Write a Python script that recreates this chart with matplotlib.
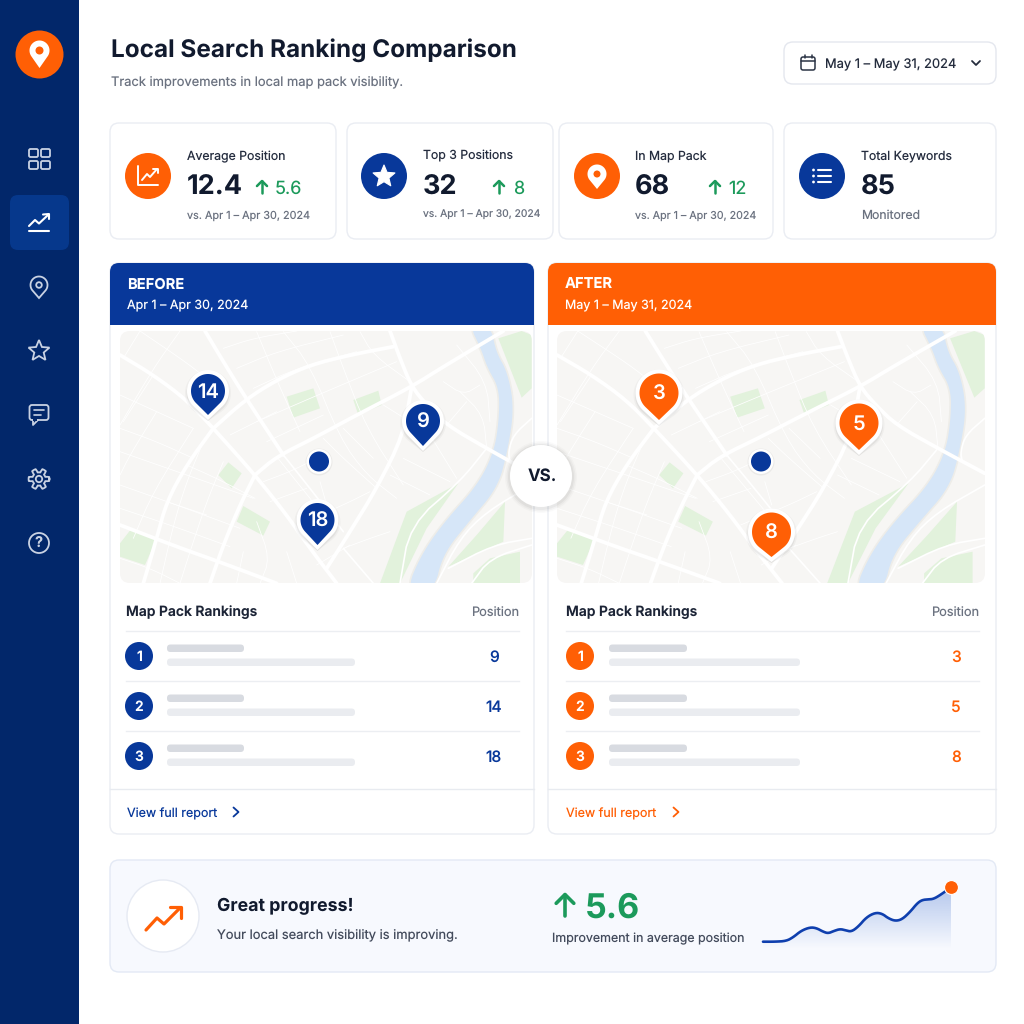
import numpy as np
import matplotlib
matplotlib.use('Agg')
import matplotlib.pyplot as plt
from matplotlib.colors import to_rgb
from matplotlib.patches import FancyBboxPatch, Circle, Polygon, Rectangle

plt.rcParams['font.family'] = ['Inter', 'DejaVu Sans']
plt.rcParams['text.hinting'] = 'no_hinting'
plt.rcParams['text.hinting_factor'] = 1

# data
title = 'Local Search Ranking Comparison'
subtitle = 'Track improvements in local map pack visibility.'
date_range = 'May 1 – May 31, 2024'
prev_range = 'Apr 1 – Apr 30, 2024'
kpi_labels = ['Average Position', 'Top 3 Positions', 'In Map Pack', 'Total Keywords']
kpi_values = ['12.4', '32', '68', '85']
kpi_deltas = ['5.6', '8', '12', None]
ranks = [1, 2, 3]
before_positions = [9, 14, 18]
after_positions = [3, 5, 8]
before_pins = [14, 9, 18]
after_pins = [3, 5, 8]
spark_days = [1, 2.9, 4.7, 5.8, 7.1, 8.5, 9.5, 10.6, 11.4, 12.3, 13.3, 14.2, 15.1, 16.2,
              17.5, 18.9, 20, 21, 22.1, 23.2, 24.5, 25.6, 26.4, 27.4, 28.2, 29.3, 31]
spark_vals = [0, 0, .07, .45, 1.13, 1.48, 1.41, 1.03, .86, 1.1, 1.31, 1.17, 1.03, 1.55,
              2.51, 2.99, 2.89, 2.41, 2.13, 2.3, 3.09, 3.95, 4.3, 4.36, 4.4, 4.81, 5.6]

# colours
NAVY = '#02276a'
BLUE = '#08389a'
ORANGE = '#ff5f05'
GREEN = '#1c9a5b'
INK = '#111a2e'
GREY = '#6b7280'
BORDER = '#eaedf3'

# map layout, in crop coordinates of the left map
parks = [
    [(530, 215), (610, 190), (630, 250), (550, 278)],
    [(730, 225), (805, 197), (815, 240), (745, 270)],
    [(325, 450), (355, 412), (395, 445), (365, 490)],
    [(380, 590), (400, 543), (480, 590), (460, 632)],
    [(30, 655), (65, 610), (140, 640), (105, 720), (30, 695)],
    [(810, 775), (860, 640), (890, 560), (1045, 475), (950, 610), (870, 775)],
    [(1165, 40), (1235, 18), (1265, 30), (1265, 190), (1235, 218)],
    [(1015, 725), (1100, 630), (1185, 530), (1180, 650)],
    [(1090, 775), (1090, 745), (1140, 700), (1230, 680), (1230, 775)],
]
river = [(1075, 0), (1110, 70), (1130, 130), (1165, 190), (1165, 280), (1150, 380), (1100, 480),
         (1000, 590), (930, 690), (885, 800), (975, 800), (1000, 690), (1080, 590), (1165, 490),
         (1195, 380), (1215, 250), (1195, 140), (1160, 80), (1145, 0)]
major_roads = [
    [(30, 90), (130, 150), (230, 225), (310, 310), (435, 450), (530, 570), (600, 670), (680, 775)],
    [(285, 18), (340, 110), (405, 215), (520, 390)],
    [(310, 310), (405, 225), (500, 165), (600, 120), (720, 90), (850, 65)],
    [(310, 310), (230, 420), (170, 530), (140, 640), (100, 775)],
    [(435, 450), (500, 395), (620, 335), (740, 270), (905, 185), (1000, 125), (1180, 18)],
    [(840, 18), (870, 100), (905, 185), (950, 240), (1010, 300), (1130, 370), (1265, 445)],
    [(435, 450), (390, 540), (340, 660), (300, 775)],
    [(905, 185), (880, 330), (800, 490), (720, 620), (650, 730)],
    [(30, 600), (200, 665), (340, 715), (500, 775)],
]
mid_roads = [
    [(1130, 370), (1050, 470), (900, 600), (870, 775)],
    [(1265, 280), (1210, 330), (1195, 380), (1200, 410)],
    [(1265, 480), (1130, 560), (1050, 640), (980, 775)],
    [(1265, 640), (1150, 660), (1015, 730)],
    [(1265, 660), (1140, 700), (1085, 775)],
    [(700, 670), (790, 775)],
    [(520, 390), (600, 490), (700, 620)],
]
minor_roads = [
    [(30, 210), (140, 260), (250, 310)], [(30, 310), (140, 350), (250, 400)],
    [(30, 380), (230, 450), (430, 520)], [(30, 480), (200, 540), (390, 610)],
    [(30, 550), (180, 600), (360, 665)], [(30, 700), (120, 730), (210, 775)],
    [(90, 18), (40, 100)], [(210, 18), (130, 130), (30, 300)], [(130, 150), (40, 290)],
    [(250, 310), (130, 500), (70, 640)], [(140, 260), (60, 390), (30, 450)],
    [(230, 420), (320, 460), (435, 520)], [(170, 530), (290, 570)],
    [(90, 18), (240, 120), (300, 170)], [(280, 350), (230, 470), (190, 600), (150, 775)],
    [(340, 410), (290, 530), (240, 680), (210, 775)],
    [(340, 70), (430, 40), (560, 18)], [(380, 130), (500, 80), (700, 30)],
    [(430, 190), (560, 130), (740, 80)], [(440, 20), (500, 165), (570, 320)],
    [(520, 20), (600, 120), (690, 340), (770, 450), (860, 520)],
    [(660, 20), (700, 130), (770, 310), (880, 480)], [(750, 20), (790, 90), (900, 170)],
    [(440, 290), (600, 220), (860, 110)], [(470, 350), (640, 270)], [(360, 330), (500, 260)],
    [(640, 340), (700, 400), (800, 490)], [(700, 310), (790, 400)], [(820, 240), (900, 290)],
    [(880, 400), (1020, 470)], [(840, 450), (960, 510)], [(960, 330), (1040, 460)],
    [(1050, 200), (1120, 270), (1130, 370)], [(1000, 170), (1060, 210), (1110, 180)],
    [(1040, 60), (1130, 170), (1140, 290)], [(1010, 300), (1070, 230)],
    [(500, 395), (560, 470), (640, 570)], [(460, 470), (540, 440), (620, 400)],
    [(480, 530), (590, 490)], [(560, 600), (700, 540), (780, 500)], [(630, 470), (650, 540)],
    [(700, 670), (780, 640), (840, 620)], [(440, 590), (480, 700), (450, 775)],
    [(400, 680), (380, 775)], [(530, 680), (560, 775)], [(620, 720), (720, 660)],
]

fig = plt.figure(figsize=(10.24, 10.24), dpi=100, facecolor='white')
ax = fig.add_axes([0, 0, 1, 1])
ax.set_xlim(0, 1024)
ax.set_ylim(1024, 0)
ax.axis('off')


def box(x0, y0, x1, y1, r, fc='white', ec=BORDER, lw=1.0, z=2):
    p = FancyBboxPatch((x0, y0), x1 - x0, y1 - y0, boxstyle=f'round,pad=0,rounding_size={r}',
                       fc=fc, ec=ec, lw=lw, zorder=z)
    ax.add_patch(p)
    return p


def txt(x, y, s, size, color=INK, weight='normal', ha='left', z=12):
    return ax.text(x, y + 1, s, fontsize=size, color=color, fontweight=weight, ha=ha, va='center', zorder=z)


def line(pts, color, lw, z=11):
    xs, ys = zip(*pts)
    ax.plot(xs, ys, color=color, lw=lw, solid_capstyle='round', solid_joinstyle='round', zorder=z)


def smooth(pts, n=3, closed=False):
    # corner cutting, enough to round off the map outlines
    pts = np.array(pts, float)
    for _ in range(n):
        if closed:
            nxt = np.roll(pts, -1, axis=0)
            pts = np.column_stack([.75 * pts + .25 * nxt, .25 * pts + .75 * nxt]).reshape(-1, 2)
        else:
            q = .75 * pts[:-1] + .25 * pts[1:]
            r = .25 * pts[:-1] + .75 * pts[1:]
            mid = np.column_stack([q, r]).reshape(-1, 2)
            pts = np.vstack([pts[0], mid, pts[-1]])
    return pts


def teardrop(cx, cy, r, tip):
    d = tip - cy
    a = np.arccos(r / d)
    t = np.linspace(np.pi / 2 + a, 2.5 * np.pi - a, 60)
    xs = cx + r * np.cos(t)
    ys = cy + r * np.sin(t)
    return np.vstack([np.column_stack([xs, ys]), [cx, tip]])


def star(cx, cy, r, inner=.45):
    t = -np.pi / 2 + np.arange(10) * np.pi / 5
    rad = np.where(np.arange(10) % 2 == 0, r, r * inner)
    return np.column_stack([cx + rad * np.cos(t), cy + rad * np.sin(t)])


def up_arrow(x, y, h, color, lw=1.8):
    line([(x, y + h / 2), (x, y - h / 2)], color, lw)
    line([(x - h * .42, y - h * .08), (x, y - h / 2), (x + h * .42, y - h * .08)], color, lw)


def chevron_right(x, y, color):
    line([(x - 2.5, y - 4.5), (x + 2.5, y), (x - 2.5, y + 4.5)], color, 1.3)


# sidebar
ax.add_patch(Rectangle((0, 0), 79, 1024, fc=NAVY, ec='none', zorder=1))
ax.add_patch(Circle((39.5, 54.5), 24, fc=ORANGE, ec='none', zorder=3))
ax.add_patch(Polygon(teardrop(39.5, 50.5, 10, 68), fc='white', ec='none', zorder=4))
ax.add_patch(Circle((39.5, 50.5), 4, fc=ORANGE, ec='none', zorder=5))
box(10, 195, 69, 250, 8, fc='#06388c', ec='none', lw=0, z=2)

ICON = '#c9d2e3'
for x, y in [(29, 149), (41, 149), (29, 161), (41, 161)]:
    box(x, y, x + 9, y + 8, 1.5, fc='none', ec=ICON, lw=1.3, z=4)
line([(29, 226), (35, 220), (39, 223.5), (48, 215)], 'white', 1.5, z=4)
line([(43, 214.5), (49, 214), (49, 219)], 'white', 1.5, z=4)
line([(29, 231), (49, 231)], 'white', 1.5, z=4)
ax.add_patch(Polygon(teardrop(39, 285, 8.5, 298), fc='none', ec=ICON, lw=1.3, zorder=4))
ax.add_patch(Circle((39, 285), 2.8, fc='none', ec=ICON, lw=1.3, zorder=4))
ax.add_patch(Polygon(star(39, 351, 11), fc='none', ec=ICON, lw=1.3, zorder=4))
box(29.5, 405, 48.5, 420, 2.5, fc='none', ec=ICON, lw=1.3, z=4)
line([(33, 420), (33, 425), (38, 420)], ICON, 1.3, z=4)
ax.add_patch(Rectangle((33, 419), 4, 2, fc=NAVY, ec='none', zorder=4))
line([(34, 410), (44, 410)], ICON, 1.2, z=5)
line([(34, 415), (41, 415)], ICON, 1.2, z=5)
t = np.linspace(0, 2 * np.pi, 97)
gear_r = 8.5 + 1.9 * np.clip(3 * np.cos(6 * t), -1, 1)
ax.plot(39 + gear_r * np.cos(t), 479 + gear_r * np.sin(t), color=ICON, lw=1.3, zorder=4)
ax.add_patch(Circle((39, 479), 3.2, fc='none', ec=ICON, lw=1.3, zorder=4))
ax.add_patch(Circle((39, 543), 10, fc='none', ec=ICON, lw=1.3, zorder=4))
txt(39, 542, '?', 10.5, color=ICON, weight='bold', ha='center', z=5)

# header
txt(111, 49.5, title, 17.5, weight='bold')
txt(111, 82, subtitle, 9.3, color=GREY)
box(784, 42, 996, 84, 9, ec='#e4e7ee')
box(801, 57, 815, 70, 2, fc='none', ec='#2b3445', lw=1.1, z=5)
line([(801, 61), (815, 61)], '#2b3445', 1.1)
line([(804.5, 55), (804.5, 58)], '#2b3445', 1.1)
line([(811.5, 55), (811.5, 58)], '#2b3445', 1.1)
txt(825, 63.5, date_range, 9.3, color='#242c3d')
line([(972, 61), (976, 65), (980, 61)], '#242c3d', 1.3)

# kpi cards
cards = [(110, 336), (347, 553), (559, 773), (784, 996)]
icon_x = [148, 384, 597, 822]
text_x = [187, 423, 635, 861]
arrow_x = [262, 499, 715, None]
delta_x = [275, 513, 728, None]
sub_size = [7.8, 7.45, 7.7]
for i, (x0, x1) in enumerate(cards):
    box(x0, 123, x1, 239, 9)
    ax.add_patch(Circle((icon_x[i], 176), 23, fc=ORANGE if i in (0, 2) else BLUE, ec='none', zorder=4))
    txt(text_x[i], 155.5, kpi_labels[i], 8.85, color='#252d3f')
    txt(text_x[i], 187, kpi_values[i], 19.5, weight='bold')
    if kpi_deltas[i] is not None:
        up_arrow(arrow_x[i], 187, 12, GREEN)
        txt(delta_x[i], 188, kpi_deltas[i], 13, color=GREEN)
        txt(text_x[i], 214.5, 'vs. ' + prev_range, sub_size[i], color=GREY)
    else:
        txt(text_x[i], 214.5, 'Monitored', 8.8, color=GREY)

# kpi icons
line([(138, 166), (138, 185), (158, 185)], 'white', 1.4, z=6)
line([(142, 180), (147, 174), (150, 177), (157, 169)], 'white', 1.4, z=6)
line([(153, 168.5), (158, 168.5), (158, 173)], 'white', 1.4, z=6)
ax.add_patch(Polygon(star(384, 176.5, 11.5), fc='white', ec='white', lw=.8, joinstyle='round', zorder=6))
ax.add_patch(Polygon(teardrop(597, 174, 9.5, 189), fc='white', ec='none', zorder=6))
ax.add_patch(Circle((597, 174), 3.5, fc=ORANGE, ec='none', zorder=7))
for dy in (-6, 0, 6):
    ax.add_patch(Circle((813.5, 176 + dy), 1.4, fc='white', ec='none', zorder=6))
    line([(818, 176 + dy), (831, 176 + dy)], 'white', 1.5, z=6)


def map_panel(x0, scale, pin_vals, pin_xy, pin_r, color, dot_x):
    # draws one of the two street maps, clipped to its rounded frame
    clip = FancyBboxPatch((x0, 331), (412 if scale == 1 else 428), 252, boxstyle='round,pad=0,rounding_size=10',
                          fc='#f7f6f4', ec='none', zorder=3)
    ax.add_patch(clip)

    def conv(pts):
        p = np.array(pts, float)
        return np.column_stack([x0 + (p[:, 0] - 30) / 3 * scale, 325 + p[:, 1] / 3])

    for pk in parks:
        a = Polygon(conv(pk), fc='#e2f2dc', ec='none', zorder=3.1)
        ax.add_patch(a)
        a.set_clip_path(clip)
    a = Polygon(conv(smooth(river, 3, closed=True)), fc='#d6e6f8', ec='#eeede9', lw=1.2, zorder=3.2)
    ax.add_patch(a)
    a.set_clip_path(clip)
    for roads, lw, z in ((minor_roads, .55, 3.3), (mid_roads, 1.2, 3.4), (major_roads, 2.7, 3.5)):
        for rd in roads:
            p = conv(smooth(rd, 2))
            l, = ax.plot(p[:, 0], p[:, 1], color='white', lw=lw, zorder=z, solid_capstyle='round')
            l.set_clip_path(clip)

    for val, (cx, cy, tip) in zip(pin_vals, pin_xy):
        for grow, alpha in ((6, .03), (4.5, .05)):
            ax.add_patch(Polygon(teardrop(cx, cy + 2, pin_r + grow, tip + 6), fc='black', alpha=alpha, ec='none', zorder=5))
        ax.add_patch(Polygon(teardrop(cx, cy, pin_r + 4, tip + 5), fc='white', ec='none', zorder=5.2))
        ax.add_patch(Polygon(teardrop(cx, cy, pin_r, tip), fc=color, ec='none', zorder=5.4))
        txt(cx, cy + .5, str(val), 14.5, color='white', weight='semibold', ha='center', z=6)

    ax.add_patch(Circle((dot_x, 462), 13.5, fc='black', alpha=.05, ec='none', zorder=5))
    ax.add_patch(Circle((dot_x, 461.5), 12.5, fc='white', ec='none', zorder=5.2))
    ax.add_patch(Circle((dot_x, 461.5), 10, fc=BLUE, ec='none', zorder=5.4))


# before / after panels
panels = [
    dict(x0=110, x1=534, label='BEFORE', dates=prev_range, color=BLUE, tx=127, map_x=120, scale=1,
         pins=before_pins, pin_xy=[(208, 391, 415), (423, 421, 446), (317.5, 520, 545)], pin_r=17, dot=319,
         rows=before_positions, num_x=139, bar_x=167, bar1=244, bar2=355, val_x=494,
         pos_x=519, view_x=127, chev=236, sep=(126, 519), rows_title=126),
    dict(x0=548, x1=996, label='AFTER', dates=date_range, color=ORANGE, tx=565, map_x=557, scale=1.039,
         pins=after_pins, pin_xy=[(659, 393, 420), (859, 423, 450), (771.5, 532, 557)], pin_r=19.5, dot=761,
         rows=after_positions, num_x=580, bar_x=609, bar1=687, bar2=800, val_x=956,
         pos_x=979, view_x=566, chev=676, sep=(566, 979), rows_title=566),
]
for p in panels:
    box(p['x0'], 263, p['x1'], 834, 9, z=2)
    box(p['x0'], 263, p['x1'], 320, 9, fc=p['color'], ec='none', lw=0, z=2.1)
    ax.add_patch(Rectangle((p['x0'], 300), p['x1'] - p['x0'], 24.5, fc=p['color'], ec='none', zorder=2.1))
    txt(p['tx'], 283.5, p['label'], 10.6, color='white', weight='bold')
    txt(p['tx'], 304.5, p['dates'], 9.0, color='white')
    map_panel(p['map_x'], p['scale'], p['pins'], p['pin_xy'], p['pin_r'], p['color'], p['dot'])

    txt(p['rows_title'], 611.5, 'Map Pack Rankings', 10, color='#1c2436', weight='semibold')
    txt(p['pos_x'], 612, 'Position', 9.2, color=GREY, ha='right')
    ax.plot(p['sep'], [631, 631], color='#eceef2', lw=1, zorder=3)
    for j, (rank, pos) in enumerate(zip(ranks, p['rows'])):
        yc = [656, 706, 756][j]
        ax.add_patch(Circle((p['num_x'], yc), 14, fc=p['color'], ec='none', zorder=4))
        txt(p['num_x'], yc, str(rank), 10, color='white', weight='semibold', ha='center')
        box(p['bar_x'], yc - 11.5, p['bar1'], yc - 4, 3.5, fc='#d8dbe1', ec='none', lw=0, z=4)
        box(p['bar_x'], yc + 2.5, p['bar2'], yc + 10, 3.5, fc='#eaecf0', ec='none', lw=0, z=4)
        txt(p['val_x'], yc + .5, str(pos), 11.2, color=p['color'], weight='medium', ha='center')
        if j < 2:
            ax.plot(p['sep'], [yc + 25, yc + 25], color='#eceef2', lw=1, zorder=3)
    ax.plot((p['x0'], p['x1']), (789, 789), color='#e8ebf0', lw=1, zorder=3)
    txt(p['view_x'], 812.5, 'View full report', 9.0, color=p['color'])
    chevron_right(p['chev'], 812, p['color'])

# vs badge
for grow, alpha in ((5, .02), (3.5, .03), (2, .04)):
    ax.add_patch(Circle((541, 477), 31 + grow, fc='black', alpha=alpha, ec='none', zorder=7))
ax.add_patch(Circle((541, 476), 31, fc='white', ec='none', zorder=7.2))
txt(542, 475, 'VS.', 12.2, weight='bold', ha='center', z=8)

# summary strip
box(110, 860, 996, 972, 9, fc='#f7f9fe', ec='#e3e9f5')
ax.add_patch(Circle((163, 916), 36, fc='white', ec='#e6eaf3', lw=1, zorder=4))
line([(146, 930), (157, 918), (164, 924), (180, 908)], ORANGE, 2.3)
line([(170, 907), (181, 907), (181, 918)], ORANGE, 2.3)
txt(217, 905, 'Great progress!', 12.8, weight='bold')
txt(217, 934.5, 'Your local search visibility is improving.', 9.3, color='#434b5c')
up_arrow(565, 905, 21, GREEN, lw=2.6)
txt(585, 908, kpi_deltas[0], 24.5, color=GREEN, weight='bold')
txt(552, 937.5, 'Improvement in average position', 8.95, color='#434b5c')

# sparkline, its own axes so the values go through a real scale
FLOOR = -.8
vmax = max(spark_vals)
spark_top, spark_zero = 887.3, 941.7
px_per_unit = (spark_zero - spark_top) / vmax
spark = fig.add_axes([763 / 1024, 1 - (spark_zero - FLOOR * px_per_unit) / 1024, (951 - 763) / 1024,
                      (spark_zero - spark_top - FLOOR * px_per_unit) / 1024])
spark.axis('off')
curve = smooth(list(zip(spark_days, spark_vals)), 2)
rgba = np.zeros((64, 1, 4))
rgba[..., :3] = to_rgb('#2f63c9')
rgba[..., 3] = np.linspace(0.34, 0, 64).reshape(-1, 1)
im = spark.imshow(rgba, extent=[spark_days[0], spark_days[-1], FLOOR, vmax], origin='upper', aspect='auto', zorder=1)
poly = Polygon(np.vstack([curve, [(spark_days[-1], FLOOR), (spark_days[0], FLOOR)]]),
               transform=spark.transData, fc='none', ec='none')
spark.add_patch(poly)
im.set_clip_path(poly)
spark.plot(curve[:, 0], curve[:, 1], color='#0f3fae', lw=1.9, solid_capstyle='round', solid_joinstyle='round',
           zorder=3, clip_on=False)
spark.plot(spark_days[-1], spark_vals[-1], 'o', ms=10, mfc=ORANGE, mec='white', mew=.8, zorder=4, clip_on=False)
spark.set_xlim(spark_days[0], spark_days[-1])
spark.set_ylim(FLOOR, vmax)

fig.savefig('out.png', dpi=100)
